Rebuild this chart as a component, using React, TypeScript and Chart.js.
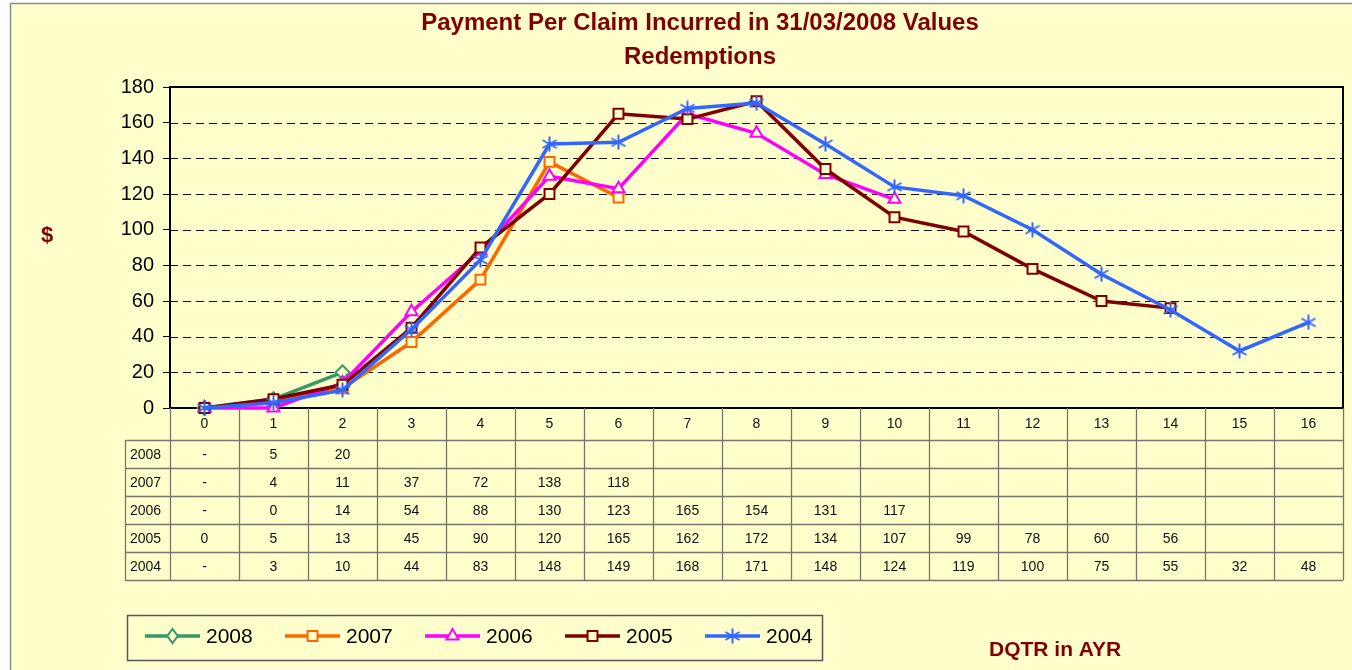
import React, { useEffect, useRef } from 'react';
import { Chart, registerables } from 'chart.js';
Chart.register(...registerables);

const categories = ['0', '1', '2', '3', '4', '5', '6', '7', '8', '9', '10', '11', '12', '13', '14', '15', '16'];
const seriesNames = ['2008', '2007', '2006', '2005', '2004'];
const values2008 = [0, 5, 20];
const values2007 = [0, 4, 11, 37, 72, 138, 118];
const values2006 = [0, 0, 14, 54, 88, 130, 123, 165, 154, 131, 117];
const values2005 = [0, 5, 13, 45, 90, 120, 165, 162, 172, 134, 107, 99, 78, 60, 56];
const values2004 = [0, 3, 10, 44, 83, 148, 149, 168, 171, 148, 124, 119, 100, 75, 55, 32, 48];
const table2008 = ['-', '5', '20'];
const table2007 = ['-', '4', '11', '37', '72', '138', '118'];
const table2006 = ['-', '0', '14', '54', '88', '130', '123', '165', '154', '131', '117'];
const table2005 = ['0', '5', '13', '45', '90', '120', '165', '162', '172', '134', '107', '99', '78', '60', '56'];
const table2004 = ['-', '3', '10', '44', '83', '148', '149', '168', '171', '148', '124', '119', '100', '75', '55', '32', '48'];
const yTickValues = [0, 20, 40, 60, 80, 100, 120, 140, 160, 180];
const titleLines = ['Payment Per Claim Incurred in 31/03/2008 Values', 'Redemptions'];
const yTitle = '$';
const xTitle = 'DQTR in AYR';

const FONT = '"Liberation Sans", Arial, sans-serif';
const BG = '#FFFFCC';
const DARKRED = '#800000';
const colors = ['#339966', '#FF6600', '#FF00FF', '#800000', '#3366FF'];

function makeAsterisk(color: string): HTMLCanvasElement {
  const c = document.createElement('canvas');
  c.width = 16;
  c.height = 16;
  const g = c.getContext('2d')!;
  g.strokeStyle = color;
  g.lineWidth = 2;
  g.beginPath();
  g.moveTo(8, 0.5); g.lineTo(8, 15.5);
  g.moveTo(1, 4); g.lineTo(15, 12);
  g.moveTo(1, 12); g.lineTo(15, 4);
  g.stroke();
  return c;
}

export default function App() {
  const ref = useRef<HTMLCanvasElement | null>(null);

  useEffect(() => {
    const canvas = ref.current!;
    const asterisk = makeAsterisk(colors[4]);
    const allValues = [values2008, values2007, values2006, values2005, values2004];
    const tables = [table2008, table2007, table2006, table2005, table2004];
    const styles: any[] = ['rectRot', 'rect', 'triangle', 'rect', asterisk];

    const plugin = {
      id: 'custom',
      beforeDraw(chart: any) {
        const { ctx, width, height } = chart;
        ctx.save();
        ctx.fillStyle = '#ffffff';
        ctx.fillRect(0, 0, width, height);
        ctx.fillStyle = BG;
        ctx.fillRect(10, 3, width - 10, height - 3);
        ctx.strokeStyle = '#8a8a8a';
        ctx.lineWidth = 1.5;
        ctx.beginPath();
        ctx.moveTo(10.5, height);
        ctx.lineTo(10.5, 3.5);
        ctx.lineTo(width, 3.5);
        ctx.stroke();
        ctx.restore();
      },
      beforeDatasetsDraw(chart: any) {
        const { ctx, chartArea } = chart;
        const y = chart.scales.y;
        ctx.save();
        ctx.strokeStyle = '#111';
        ctx.lineWidth = 1;
        ctx.setLineDash([8, 5]);
        for (const v of yTickValues) {
          if (v === 0 || v === 180) continue;
          const py = Math.round(y.getPixelForValue(v)) + 0.5;
          ctx.beginPath();
          ctx.moveTo(chartArea.left, py);
          ctx.lineTo(chartArea.right, py);
          ctx.stroke();
        }
        ctx.setLineDash([]);
        ctx.lineWidth = 2;
        ctx.strokeStyle = '#000';
        ctx.strokeRect(chartArea.left, chartArea.top, chartArea.right - chartArea.left, chartArea.bottom - chartArea.top);
        ctx.restore();
      },
      afterDraw(chart: any) {
        const { ctx, chartArea } = chart;
        const x = chart.scales.x;
        ctx.save();
        // titles
        ctx.fillStyle = DARKRED;
        ctx.font = `bold 24px ${FONT}`;
        ctx.textAlign = 'center';
        ctx.textBaseline = 'middle';
        ctx.fillText(titleLines[0], 700, 23);
        ctx.fillText(titleLines[1], 700, 57);
        ctx.font = `bold 22px ${FONT}`;
        ctx.fillText(yTitle, 47, 236);
        ctx.font = `bold 21px ${FONT}`;
        ctx.textAlign = 'left';
        ctx.fillText(xTitle, 989, 650);

        // data table
        const top = chartArea.bottom;
        const rowTops = [440, 468, 496, 524, 552, 580];
        const labelLeft = 125;
        const n = categories.length;
        const bounds: number[] = [chartArea.left];
        for (let i = 1; i < n; i++) bounds.push((x.getPixelForValue(i - 1) + x.getPixelForValue(i)) / 2);
        bounds.push(chartArea.right);
        ctx.strokeStyle = '#75756a';
        ctx.lineWidth = 1.3;
        ctx.beginPath();
        for (const b of bounds) {
          const bx = Math.round(b) + 0.5;
          ctx.moveTo(bx, top);
          ctx.lineTo(bx, rowTops[5]);
        }
        ctx.moveTo(labelLeft + 0.5, rowTops[0]);
        ctx.lineTo(labelLeft + 0.5, rowTops[5]);
        for (const r of rowTops) {
          ctx.moveTo(labelLeft, r + 0.5);
          ctx.lineTo(chartArea.right, r + 0.5);
        }
        ctx.stroke();

        ctx.fillStyle = '#111';
        ctx.font = `14px ${FONT}`;
        ctx.textAlign = 'center';
        ctx.textBaseline = 'middle';
        for (let i = 0; i < n; i++) {
          ctx.fillText(categories[i], x.getPixelForValue(i), (top + rowTops[0]) / 2);
        }
        for (let s = 0; s < seriesNames.length; s++) {
          const cy = (rowTops[s] + rowTops[s + 1]) / 2 + 1;
          ctx.textAlign = 'left';
          ctx.fillText(seriesNames[s], labelLeft + 5, cy);
          ctx.textAlign = 'center';
          tables[s].forEach((t, i) => ctx.fillText(t, x.getPixelForValue(i), cy));
        }

        // legend
        ctx.strokeStyle = '#555';
        ctx.lineWidth = 1.5;
        ctx.strokeRect(127.5, 615.5, 695, 45);
        for (let s = 0; s < seriesNames.length; s++) {
          const x0 = 145 + 140 * s;
          const ly = 636;
          ctx.strokeStyle = colors[s];
          ctx.lineWidth = 3.5;
          ctx.beginPath();
          ctx.moveTo(x0, ly);
          ctx.lineTo(x0 + 55, ly);
          ctx.stroke();
          const cx = x0 + 27.5;
          const st = styles[s];
          if (typeof st === 'string') {
            ctx.fillStyle = BG;
            ctx.strokeStyle = colors[s];
            ctx.lineWidth = 2;
            const r = 7;
            ctx.beginPath();
            if (st === 'rect') {
              const h = r * Math.SQRT1_2;
              ctx.rect(cx - h, ly - h, 2 * h, 2 * h);
            } else if (st === 'rectRot') {
              ctx.moveTo(cx, ly - r); ctx.lineTo(cx + r * 0.75, ly); ctx.lineTo(cx, ly + r); ctx.lineTo(cx - r * 0.75, ly); ctx.closePath();
            } else {
              ctx.moveTo(cx, ly - r); ctx.lineTo(cx + r * 0.87, ly + r * 0.5); ctx.lineTo(cx - r * 0.87, ly + r * 0.5); ctx.closePath();
            }
            ctx.fill();
            ctx.stroke();
          } else {
            ctx.drawImage(st, cx - 8, ly - 8);
          }
          ctx.fillStyle = '#000';
          ctx.font = `21px ${FONT}`;
          ctx.textAlign = 'left';
          ctx.textBaseline = 'middle';
          ctx.fillText(seriesNames[s], x0 + 61, ly + 1);
        }
        ctx.restore();
      },
    };

    const chart = new Chart(canvas, {
      type: 'line',
      data: {
        labels: categories,
        datasets: seriesNames.map((name, s) => ({
          label: name,
          data: allValues[s],
          borderColor: colors[s],
          backgroundColor: BG,
          borderWidth: 3.5,
          pointStyle: styles[s],
          pointRadius: 7,
          pointBorderWidth: 2,
          pointBorderColor: colors[s],
          pointBackgroundColor: BG,
          tension: 0,
          clip: false as any,
          order: 4 - s,
        })),
      },
      options: {
        animation: false,
        responsive: false,
        maintainAspectRatio: false,
        layout: { padding: { top: 87, left: 0, right: 9, bottom: 262 } },
        plugins: { legend: { display: false }, tooltip: { enabled: false }, title: { display: false } },
        scales: {
          x: {
            type: 'category',
            offset: true,
            display: false,
          },
          y: {
            min: 0,
            max: 180,
            afterFit: (s: any) => { s.width = 170; },
            afterBuildTicks: (s: any) => { s.ticks = yTickValues.map((v) => ({ value: v })); },
            ticks: {
              color: '#000',
              font: { family: FONT, size: 20 },
              padding: 9,
            },
            grid: { drawOnChartArea: false, drawTicks: true, tickLength: 7, color: '#000', tickColor: '#000' },
            border: { display: false },
          },
        },
      },
      plugins: [plugin],
    });
    return () => chart.destroy();
  }, []);

  return (
    <div style={{ position: 'absolute', left: 0, top: 0, width: 1352, height: 670 }}>
      <canvas ref={ref} width={1352} height={670} style={{ display: 'block' }} />
    </div>
  );
}
